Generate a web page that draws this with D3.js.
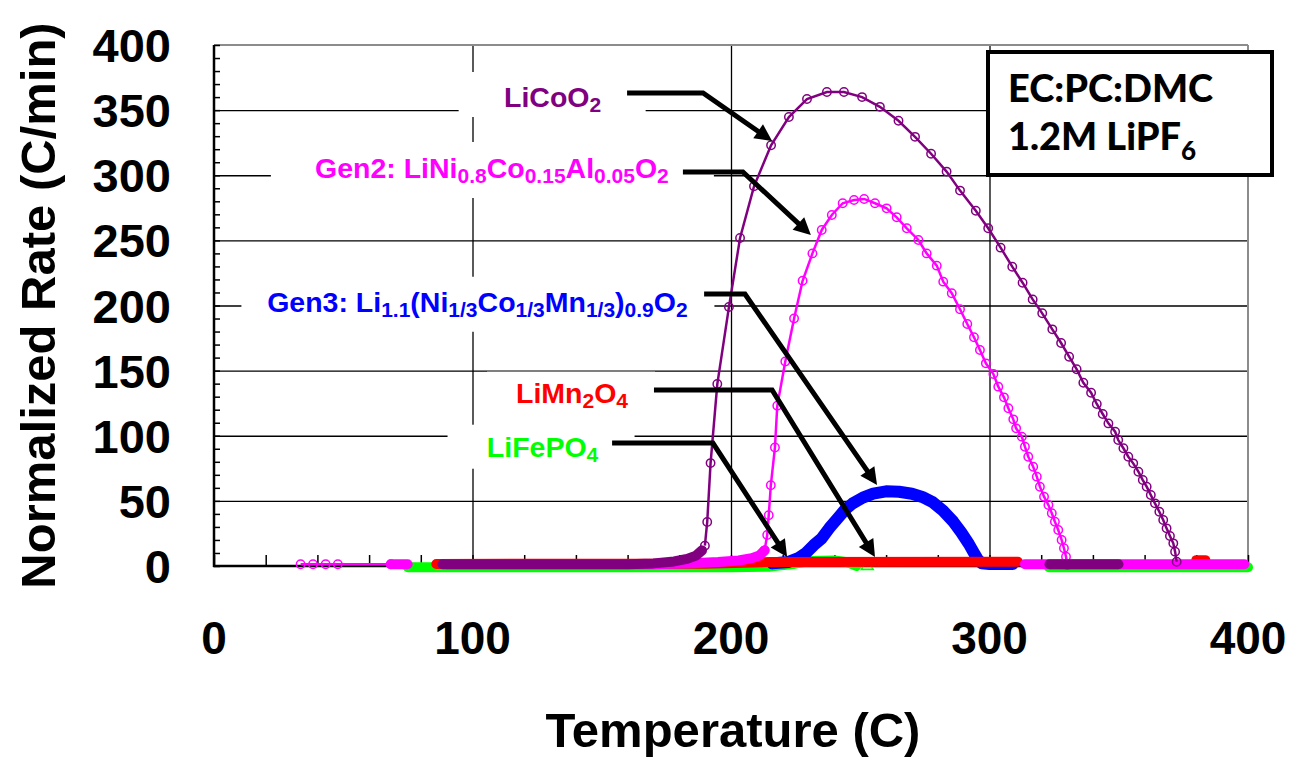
<!DOCTYPE html>
<html><head><meta charset="utf-8">
<script src="https://cdn.jsdelivr.net/npm/d3@7"></script>
<style>body{margin:0;background:#fff}svg{display:block}</style>
</head><body>
<svg id="c" width="1292" height="757"></svg>
<script>
// ---------------- DATA ----------------
const xTicks = [0, 100, 200, 300, 400];
const yTicks = [0, 50, 100, 150, 200, 250, 300, 350, 400];
const xTitle = "Temperature (C)";
const yTitle = "Normalized Rate (C/min)";

// LiCoO2 (purple)
const licoo2Band = [[88.4,1.3],[160,1.4],[170,2],[178,3.5],[183,5.5],[186.5,8],[188.8,12]];
const licoo2Curve = [[189.9,15.6],[190.8,33.8],[192.1,79],[194.7,139.7],[199.2,198.8],[203.5,251.8],[208.9,291.5],[215.5,323],[222.4,344.7],[229.4,358.5],[237.1,363.9],[243.7,363.9],[250.7,360],[257.6,352.5],[264.8,341.8],[271.2,329.5],[277.4,316.5],[283.4,302.8],[288.6,288.2],[294.7,272.8],[299.5,259.3],[304.3,244.4],[308.8,229.8],[312.8,217.5],[316.7,204.7],[320.4,194],[324.3,181.7],[327.7,171.2],[330.8,160.7],[333.7,151.1],[336.3,140.7],[339.3,133],[341.5,124.4],[343.8,116.7],[346,109.5],[348.6,103.1],[349.8,96.7],[351.8,90.4],[353.7,83.9],[355.6,78.8],[357.6,72.4],[359.3,66],[360.8,60.9],[362.4,54.5],[364,48.1],[365.7,41.7],[367.2,35.3],[368.5,28.9],[369.8,23],[371.1,17.4],[371.8,11],[372.4,3.3]];
const licoo2Band2 = [[323.2,1.3],[349.9,1.3]];

// Gen2 LiNi0.8Co0.15Al0.05O2 (magenta)
const gen2Start = [[33.5,1.3],[38.3,1.3],[43.2,1.3],[47.9,1.3],[68.4,1.3]];
const gen2Band1 = [[68.4,1.3],[74.9,1.3]];
const gen2Band2 = [[90,1.3],[170,1.3],[185,2.2],[195,3],[203,4.2],[208,6],[211,8],[213,12]];
const gen2Curve = [[213,12],[214,23.8],[214.6,39],[215.4,62],[217,91],[217.9,123],[221,157],[224.4,190],[227.7,219],[231.5,240],[235.1,258],[239,269.5],[243.2,278.5],[247.6,281],[251.5,281.8],[255.7,278.5],[260.2,274.6],[264.1,267.7],[268,259.3],[272.5,250.3],[275.7,240],[279.6,230.6],[282.1,218.3],[285.4,209.4],[288.6,197.1],[291.4,185.8],[294,175.6],[296.3,165.8],[298.6,155.6],[301.5,147.4],[303.4,137.7],[305.6,129.5],[307.3,121.1],[309.2,112.6],[310.3,105.7],[312.5,99.3],[313.7,91.6],[315,83.9],[316.9,76.2],[318.3,68.6],[319.5,60.9],[321.1,53.2],[322.8,46.8],[324.1,40.5],[325.3,34],[326.6,27.6],[327.9,20],[328.8,13.6],[329.6,7.1],[330.1,0.8]];
const gen2Band3 = [[313.7,1.3],[398.6,1.3]];

// Gen3 Li1.1(Ni1/3Co1/3Mn1/3)0.9O2 (blue, dense markers)
const gen3Band = [[216,2],[222,3],[226,6],[229,10],[232,16],[235,21],[238,29],[241,36],[244,43],[247,48],[251,52.5],[255,55.5],[260,57.3],[265,57],[270,55.5],[274,53],[278,49],[282,42.5],[286,34],[289,26],[292,17],[294,10],[295.5,5],[297,2],[300,1.5],[309,1.5]];

// LiMn2O4 (red, dense markers)
const limnBand = [[86,1.6],[190,1.8],[215,3],[311,3.3]];
const limnBand2 = [[380,4.5],[383.5,4.5]];

// LiFePO4 (green, dense markers)
const lifeBand = [[75,-1],[200,-1],[215,-0.5],[224,1.5],[230,3.8],[240,4.3],[245,3],[248.5,0]];
const lifeBand2 = [[323,-1],[400,-1]];
const lifeMarker = [[252.7,0]];

// Annotations (label text parts; 1 = subscript)
const labelParts = [
  [["LiCoO"],["2",1]],
  [["Gen2: LiNi"],["0.8",1],["Co"],["0.15",1],["Al"],["0.05",1],["O"],["2",1]],
  [["Gen3: Li"],["1.1",1],["(Ni"],["1/3",1],["Co"],["1/3",1],["Mn"],["1/3",1],[")"],["0.9",1],["O"],["2",1]],
  [["LiMn"],["2",1],["O"],["4",1]],
  [["LiFePO"],["4",1]]
];
const labelColors = ["#800080","#ff00ff","#0000ff","#ff0000","#00ff00"];
// anchor (text center, baseline) in data units
const labelAnchor = [[131,352.4],[107.5,297.9],[101.9,195.2],[138.5,125.4],[127.1,83.9]];
// arrow paths in data units: start, knee, tip
const arrowPaths = [
  [[159.8,363.1],[189.2,363.1],[215.9,326.3]],
  [[181.4,302.5],[204.6,302.5],[230.9,254.1]],
  [[189.6,208.8],[205.4,208.8],[256.5,62.2]],
  [[170.2,135.1],[215.9,135.1],[255.7,6.9]],
  [[154,94.4],[193,94.4],[221.7,6.9]]
];
const boxLines = [["EC:PC:DMC"],["1.2M LiPF","6"]];

// ---------------- LAYOUT ----------------
const W = 1292, H = 757;
const L = 214, R = 1248, T = 45, B = 566;
const FONT = '"Liberation Sans", Arial, Helvetica, sans-serif';
const C = {purple:"#800080", magenta:"#ff00ff", blue:"#0000ff", red:"#ff0000", green:"#00ff00"};
// white label box extents relative to text anchor (px)
const labelBox = [[-94,93,-35,10],[-221,222,-36,20],[-236,237,-35,20],[-85,83,-31,19],[-95,92,-32,12]];

const svg = d3.select("#c");
const x = d3.scaleLinear().domain([0,400]).range([L,R]);
const y = d3.scaleLinear().domain([0,400]).range([B,T]);
const line = d3.line().x(d=>x(d[0])).y(d=>y(d[1]));

svg.append("rect").attr("width",W).attr("height",H).attr("fill","#fff");

// gridlines
const gY = svg.append("g").attr("transform",`translate(${L},0)`)
  .call(d3.axisLeft(y).tickValues(yTicks.filter(v=>v>0&&v<400)).tickSize(-(R-L)).tickFormat(""));
gY.select(".domain").remove();
gY.selectAll("line").attr("stroke","#000").attr("stroke-width",1.3);
const gX = svg.append("g").attr("transform",`translate(0,${B})`)
  .call(d3.axisBottom(x).tickValues(xTicks.filter(v=>v>0&&v<400)).tickSize(-(B-T)).tickFormat(""));
gX.select(".domain").remove();
gX.selectAll("line").attr("stroke","#000").attr("stroke-width",1.3);

// frame top/right (gray)
svg.append("line").attr("x1",L).attr("x2",R).attr("y1",T).attr("y2",T).attr("stroke","#8c8c8c").attr("stroke-width",2);
svg.append("line").attr("x1",R).attr("x2",R).attr("y1",T).attr("y2",B).attr("stroke","#8c8c8c").attr("stroke-width",2);

// minor ticks
const mY = svg.append("g").attr("transform",`translate(${L},0)`)
  .call(d3.axisLeft(y).tickValues(d3.range(0,401,10)).tickSize(-6).tickFormat(""));
mY.select(".domain").remove();
mY.selectAll("line").attr("stroke","#000").attr("stroke-width",1.5);
const mX = svg.append("g").attr("transform",`translate(0,${B})`)
  .call(d3.axisBottom(x).tickValues(d3.range(0,401,20)).tickSize(-11).tickFormat(""));
mX.select(".domain").remove();
mX.selectAll("line").attr("stroke","#000").attr("stroke-width",1.5);

// axes lines
svg.append("line").attr("x1",L).attr("x2",L).attr("y1",T).attr("y2",B+1).attr("stroke","#000").attr("stroke-width",2.5);
svg.append("line").attr("x1",L-1).attr("x2",R).attr("y1",B).attr("y2",B).attr("stroke","#000").attr("stroke-width",2.5);

// label white boxes
labelAnchor.forEach((a,i)=>{
  const b = labelBox[i];
  svg.append("rect").attr("x",x(a[0])+b[0]).attr("y",y(a[1])+b[2])
    .attr("width",b[1]-b[0]).attr("height",b[3]-b[2]).attr("fill","#fff");
});

// ---------------- SERIES ----------------
function band(data,color,w){
  svg.append("path").attr("d",line(data)).attr("fill","none").attr("stroke",color)
    .attr("stroke-width",w||10).attr("stroke-linecap","round").attr("stroke-linejoin","round");
}
function curve(data,color){
  svg.append("path").attr("d",line(data)).attr("fill","none").attr("stroke",color).attr("stroke-width",2.5);
  svg.append("g").selectAll("circle").data(data).join("circle")
    .attr("cx",d=>x(d[0])).attr("cy",d=>y(d[1])).attr("r",4.2)
    .attr("fill","none").attr("stroke",color).attr("stroke-width",1.5);
}
// green
band(lifeBand,C.green); band(lifeBand2,C.green);
svg.append("g").selectAll("path").data(lifeMarker).join("path")
  .attr("d",d3.symbol().type(d3.symbolTriangle).size(60))
  .attr("transform",d=>`translate(${x(d[0])},${y(d[1])})`)
  .attr("fill","none").attr("stroke",C.green).attr("stroke-width",1.6);
// blue
band(gen3Band,C.blue,12);
// red
band(limnBand,C.red); band(limnBand2,C.red);
// magenta
curve(gen2Start,C.magenta);
band(gen2Band1,C.magenta); band(gen2Band2,C.magenta);
band(gen2Band3,C.magenta);
curve(gen2Curve,C.magenta);
// purple
band(licoo2Band,C.purple); band(licoo2Band2,C.purple);
curve(licoo2Curve,C.purple);

// ---------------- ANNOTATIONS ----------------
arrowPaths.forEach(p=>{
  const pts = p.map(d=>[x(d[0]),y(d[1])]);
  const [k,t] = [pts[1],pts[2]];
  const dx=t[0]-k[0], dy=t[1]-k[1], len=Math.hypot(dx,dy), ux=dx/len, uy=dy/len;
  const hl=17, hw=8.5;
  const base=[t[0]-ux*hl, t[1]-uy*hl];
  svg.append("path").attr("d",d3.line()([pts[0],pts[1],[base[0]+ux*2,base[1]+uy*2]]))
    .attr("fill","none").attr("stroke","#000").attr("stroke-width",5).attr("stroke-linejoin","miter");
  svg.append("path").attr("d",d3.line()([t,[base[0]-uy*hw,base[1]+ux*hw],[base[0]+uy*hw,base[1]-ux*hw]])+"Z")
    .attr("fill","#000");
});

function richText(g,parts,size,sub){
  const t = g.append("text");
  let shifted=false;
  parts.forEach(p=>{
    const s = t.append("tspan").text(p[0]);
    if(p[1]){ s.attr("font-size",sub).attr("dy",shifted?0:5); shifted=true; }
    else { s.attr("font-size",size).attr("dy",shifted?-5:0); shifted=false; }
  });
  return t;
}
labelAnchor.forEach((a,i)=>{
  const t = richText(svg,labelParts[i],28.5,21);
  t.attr("x",x(a[0])).attr("y",y(a[1])).attr("text-anchor","middle")
   .attr("font-family",FONT).attr("font-weight","bold").attr("fill",labelColors[i]);
});

// legend box
svg.append("rect").attr("x",988).attr("y",52).attr("width",284).attr("height",123)
  .attr("fill","#fff").attr("stroke","#000").attr("stroke-width",4);
svg.append("text").attr("x",1008).attr("y",102).attr("font-family","Lato, "+FONT).attr("font-weight",900)
  .attr("font-size",38).text(boxLines[0][0]);
const t2 = svg.append("text").attr("x",1008).attr("y",150).attr("font-family","Lato, "+FONT).attr("font-weight",900);
t2.append("tspan").attr("font-size",38).text(boxLines[1][0]);
t2.append("tspan").attr("font-size",26).attr("dy",10).text(boxLines[1][1]);

// ---------------- TICK LABELS & TITLES ----------------
svg.append("g").selectAll("text").data(yTicks).join("text")
  .attr("x",171).attr("y",d=>y(d)+17).attr("text-anchor","end")
  .attr("font-family",FONT).attr("font-weight","bold").attr("font-size",47).text(d=>d);
svg.append("g").selectAll("text").data(xTicks).join("text")
  .attr("x",d=>x(d)).attr("y",654).attr("text-anchor","middle")
  .attr("font-family",FONT).attr("font-weight","bold").attr("font-size",46).text(d=>d);
svg.append("text").attr("x",(L+R)/2+2).attr("y",747).attr("text-anchor","middle")
  .attr("font-family",FONT).attr("font-weight","bold").attr("font-size",49).text(xTitle);
svg.append("text").attr("transform",`translate(55,${(T+B)/2}) rotate(-90)`).attr("text-anchor","middle")
  .attr("font-family",FONT).attr("font-weight","bold").attr("font-size",49).text(yTitle);
</script>
</body></html>
